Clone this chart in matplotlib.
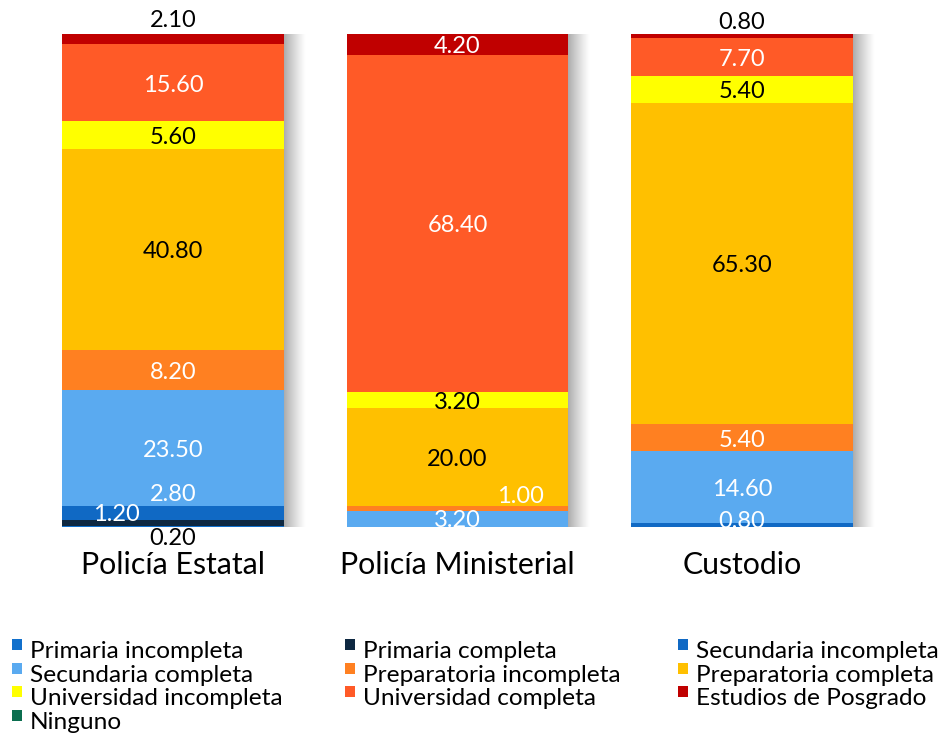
import numpy as np
import matplotlib
matplotlib.use("Agg")
import matplotlib.pyplot as plt
from matplotlib.patches import Rectangle

plt.rcParams['font.family'] = ['Lato', 'DejaVu Sans']

groups = ["Policía Estatal", "Policía Ministerial", "Custodio"]
levels = ["Primaria incompleta", "Primaria completa", "Secundaria incompleta",
          "Secundaria completa", "Preparatoria incompleta", "Preparatoria completa",
          "Universidad incompleta", "Universidad completa", "Estudios de Posgrado",
          "Ninguno"]
colors = ["#1170CC", "#0E2841", "#1069C4", "#5AAAF0", "#FF8021", "#FFC000",
          "#FFFF00", "#FF5A27", "#C00000", "#0B6E4F"]

# values (percent) per level, in order of groups
primaria_incompleta = [0.2, 0.0, 0.0]
primaria_completa = [1.2, 0.0, 0.0]
secundaria_incompleta = [2.8, 0.0, 0.8]
secundaria_completa = [23.5, 3.2, 14.6]
preparatoria_incompleta = [8.2, 1.0, 5.4]
preparatoria_completa = [40.8, 20.0, 65.3]
universidad_incompleta = [5.6, 3.2, 5.4]
universidad_completa = [15.6, 68.4, 7.7]
posgrado = [2.1, 4.2, 0.8]
ninguno = [0.0, 0.0, 0.0]

series = [primaria_incompleta, primaria_completa, secundaria_incompleta,
          secundaria_completa, preparatoria_incompleta, preparatoria_completa,
          universidad_incompleta, universidad_completa, posgrado, ninguno]

# label placement overrides: (group, level) -> (dx, y)
label_pos = {
    (0, 0): (0.0, -2.4), (0, 1): (-0.2, 2.6), (0, 2): (0.0, 6.5), (0, 8): (0.0, 102.8),
    (1, 3): (0.0, 1.4), (1, 4): (0.22, 6.1),
    (2, 2): (0.0, 1.2), (2, 8): (0.0, 102.4),
}
dark_text = {5, 6}

W, H = 944, 736
fig = plt.figure(figsize=(W / 100, H / 100), dpi=100)
ax = fig.add_axes([2.3 / W, (H - 527) / H, 910.4 / W, 493 / H])
ax.set_xlim(-0.6, 2.6)
ax.set_ylim(0, 100)
ax.axis('off')

x = np.arange(len(groups))
bw = 0.78

# shadows
grad = np.zeros((1, 64, 4))
grad[..., :3] = 0.5
grad[0, :, 3] = np.linspace(0.7, 0.0, 64) ** 1.2
for xi in x:
    ax.imshow(grad, extent=[xi + bw / 2, xi + bw / 2 + 0.075, -1.5, 100],
              aspect='auto', interpolation='bilinear', zorder=1)

bottom = np.zeros(len(groups))
for li, (vals, c) in enumerate(zip(series, colors)):
    vals = np.array(vals)
    ax.bar(x, vals, bw, bottom=bottom, color=c, linewidth=0, zorder=2)
    for gi in range(len(groups)):
        v = vals[gi]
        if v <= 0:
            continue
        dx, yy = label_pos.get((gi, li), (0.0, bottom[gi] + v / 2 - 0.5))
        outside = yy < 0 or yy > 100
        col = 'black' if (li in dark_text or outside) else 'white'
        ax.text(gi + dx, yy, f"{v:.2f}", ha='center', va='center',
                fontsize=17, color=col, zorder=5)
    bottom += vals

for gi, g in enumerate(groups):
    ax.text(gi, -9.5, g, ha='center', va='baseline', fontsize=21.8, color='black')

# legend (row-major, 3 columns)
col_x = [12, 345, 678]
row_base = [658, 681.7, 705.4, 729]
for i, (lab, c) in enumerate(zip(levels, colors)):
    r, cc = divmod(i, 3)
    mx = col_x[cc]
    by = row_base[r]
    fig.patches.append(Rectangle((mx / W, (H - (by - 8)) / H), 10 / W, 11 / H,
                                 transform=fig.transFigure, color=c, linewidth=0))
    fig.text((mx + 18) / W, (H - by) / H, lab, ha='left', va='baseline',
             fontsize=17.6, color='black')

fig.savefig("out.png", dpi=100)
